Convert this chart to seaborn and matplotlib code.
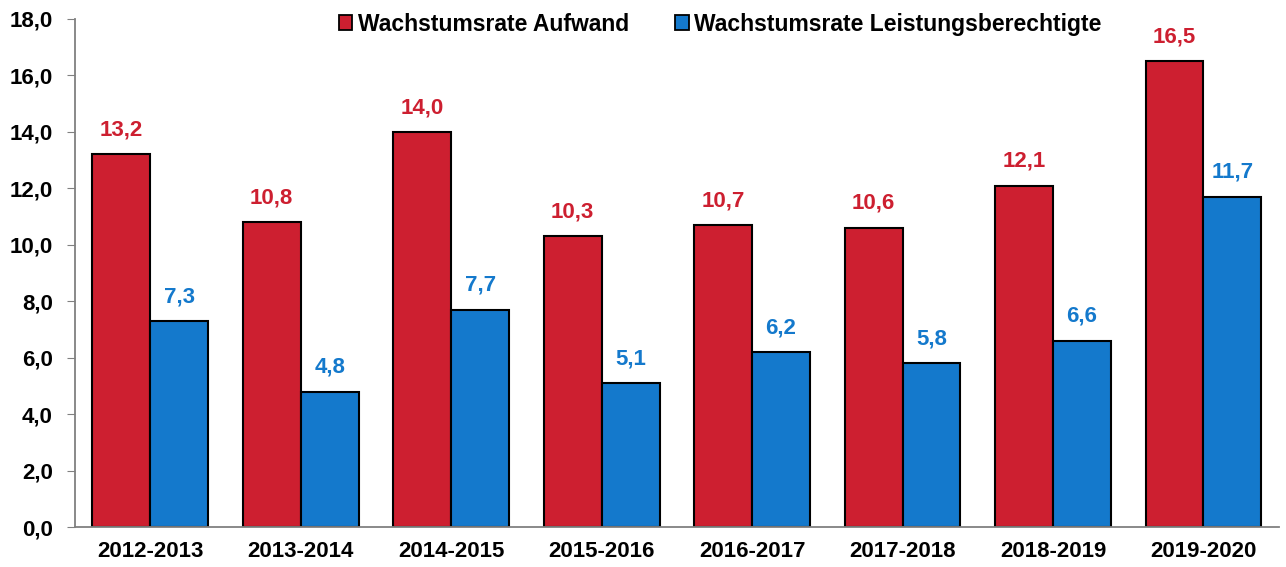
import pandas as pd
import matplotlib.pyplot as plt
import seaborn as sns
from matplotlib.patches import Patch

# data
periods = ["2012-2013", "2013-2014", "2014-2015", "2015-2016",
           "2016-2017", "2017-2018", "2018-2019", "2019-2020"]
aufwand = [13.2, 10.8, 14.0, 10.3, 10.7, 10.6, 12.1, 16.5]
berechtigte = [7.3, 4.8, 7.7, 5.1, 6.2, 5.8, 6.6, 11.7]
series = ["Wachstumsrate Aufwand", "Wachstumsrate Leistungsberechtigte"]
colors = ["#CD1F30", "#1479CC"]

df = pd.DataFrame({
    "Periode": periods * 2,
    "Wert": aufwand + berechtigte,
    "Reihe": [series[0]] * len(periods) + [series[1]] * len(periods),
})

sns.set_style("white")
plt.rcParams["font.family"] = ["Liberation Sans", "DejaVu Sans"]
plt.rcParams["font.weight"] = "bold"
plt.rcParams["text.color"] = "black"
plt.rcParams["xtick.color"] = "black"
plt.rcParams["ytick.color"] = "black"

fig = plt.figure(figsize=(12.86, 5.67), dpi=100)
ax = fig.add_axes([0.0583, 0.0705, 0.936, 0.896])

sns.barplot(data=df, x="Periode", y="Wert", hue="Reihe", order=periods,
            hue_order=series, palette=colors, width=0.77, saturation=1,
            edgecolor="black", linewidth=1.5, legend=False, ax=ax)

# value labels above bars
for cont, col in zip(ax.containers, colors):
    labels = [f"{v:.1f}".replace(".", ",") for v in cont.datavalues]
    ax.bar_label(cont, labels=labels, padding=10, color=col,
                 fontsize=16, fontweight="bold")

ax.set_ylim(0, 18)
ax.set_xlim(-0.5, len(periods) - 0.5)
ax.set_yticks(range(0, 19, 2))
ax.set_yticklabels([f"{v:.1f}".replace(".", ",") for v in range(0, 19, 2)],
                   fontsize=16, fontweight="bold")
ax.set_xticks(range(len(periods)))
ax.set_xticklabels(periods, fontsize=16, fontweight="bold")
ax.set_xticks([i - 0.5 for i in range(len(periods) + 1)], minor=True)
ax.tick_params(axis="x", which="major", length=0, pad=10)
ax.tick_params(axis="x", which="minor", length=6, color="#808080", direction="out")
ax.tick_params(axis="y", length=6, color="#808080", labelcolor="black",
               direction="out", left=True, pad=10)
ax.set_xlabel("")
ax.set_ylabel("")

for side in ["top", "right"]:
    ax.spines[side].set_visible(False)
ax.spines["left"].set_color("#808080")
ax.spines["left"].set_linewidth(1.3)
ax.spines["bottom"].set_color("#808080")
ax.spines["bottom"].set_linewidth(1.3)

handles = [Patch(facecolor=c, edgecolor="black", linewidth=1.3) for c in colors]
ax.legend(handles, series, loc="center", bbox_to_anchor=(0.536, 0.99), ncol=2,
          frameon=False, handlelength=0.6, handleheight=0.6, handletextpad=0.25,
          columnspacing=2.0, prop={"size": 16.5, "weight": "bold"})

fig.savefig("out.png", dpi=100)
